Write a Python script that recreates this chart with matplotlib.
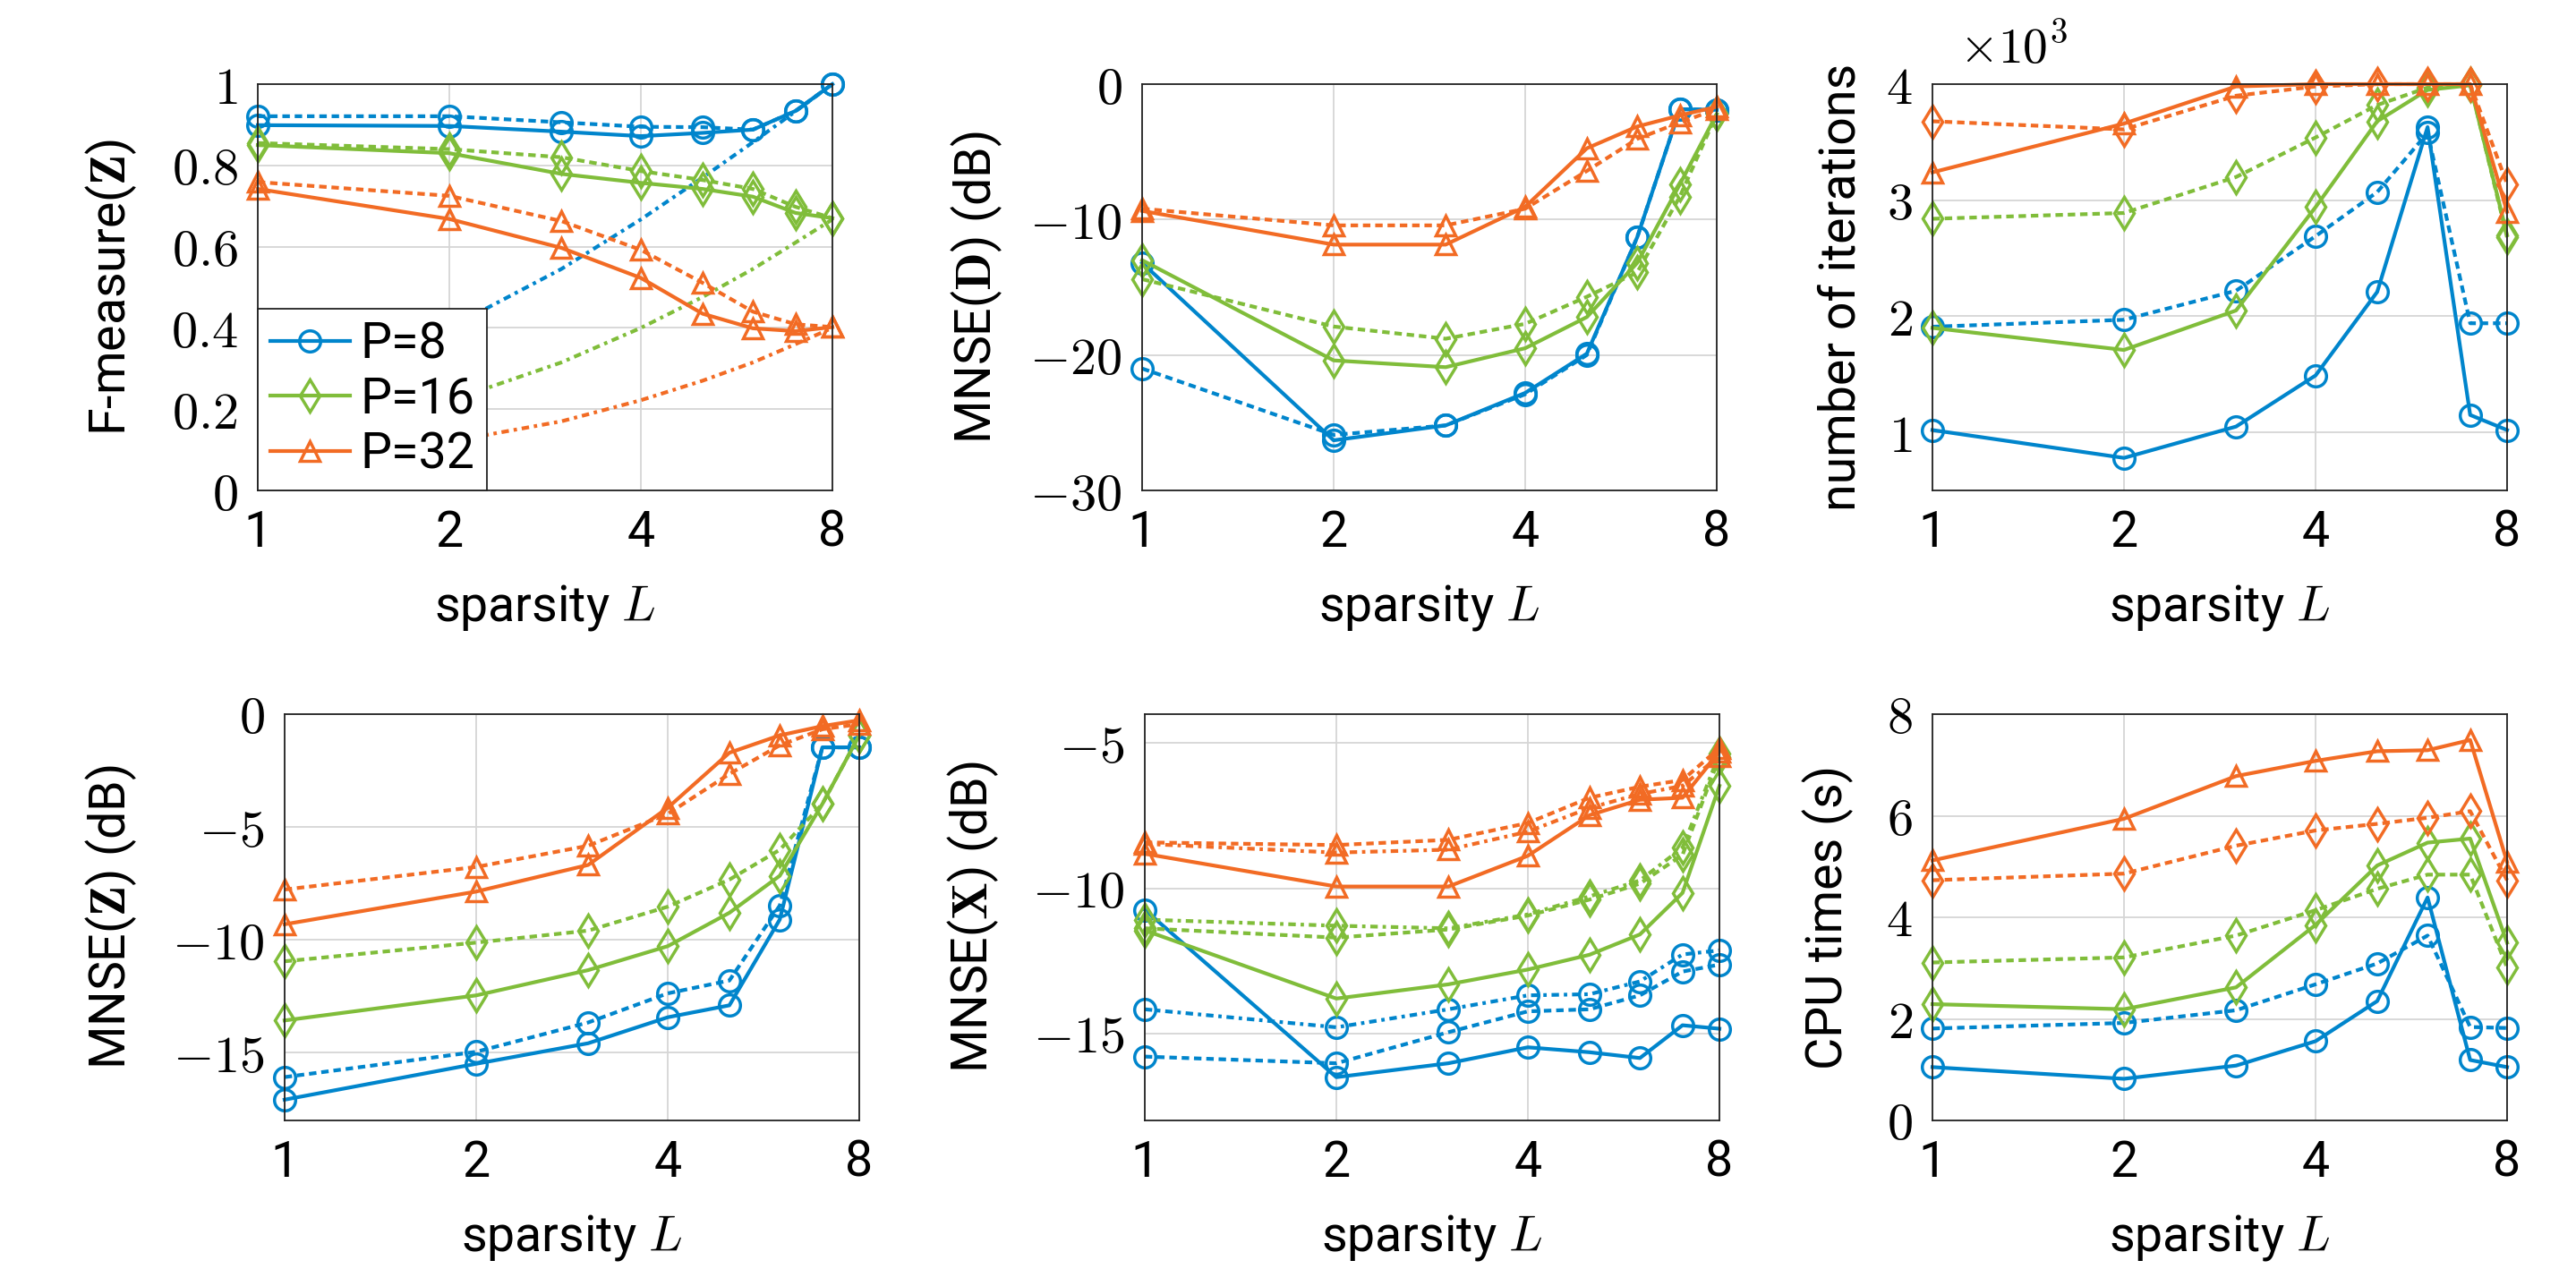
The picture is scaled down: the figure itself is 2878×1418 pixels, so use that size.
import matplotlib
matplotlib.use('Agg')
import matplotlib.pyplot as plt

plt.rcParams['font.family'] = ['Roboto', 'DejaVu Sans']
plt.rcParams['mathtext.fontset'] = 'cm'

# ---------------- data ----------------
L = [1, 2, 3, 4, 5, 6, 7, 8]
x_ticks = [1, 2, 4, 8]
x_ticklabels = ['1', '2', '4', '8']
legend_labels = ['P=8', 'P=16', 'P=32']

# F-measure(Z)
fm_p8_solid = [0.899, 0.897, 0.883, 0.872, 0.880, 0.888, 0.934, 1.0]
fm_p8_dash = [0.921, 0.921, 0.906, 0.895, 0.894, 0.888, 0.934, 1.0]
fm_p8_dot = [0.22, 0.40, 0.545, 0.667, 0.77, 0.857, 0.933, 1.0]
fm_p16_solid = [0.850, 0.830, 0.779, 0.757, 0.742, 0.723, 0.683, 0.670]
fm_p16_dash = [0.855, 0.840, 0.820, 0.786, 0.764, 0.742, 0.698, 0.670]
fm_p16_dot = [0.12, 0.22, 0.315, 0.40, 0.476, 0.545, 0.61, 0.667]
fm_p32_solid = [0.742, 0.668, 0.597, 0.523, 0.435, 0.399, 0.392, 0.402]
fm_p32_dash = [0.759, 0.725, 0.663, 0.592, 0.511, 0.440, 0.409, 0.402]
fm_p32_dot = [0.06, 0.12, 0.17, 0.222, 0.27, 0.315, 0.36, 0.40]

# MNSE(D) (dB)
d_p8_solid = [-13.2, -26.3, -25.2, -22.8, -19.9, -11.3, -1.85, -1.9]
d_p8_dash = [-21.0, -25.9, -25.2, -22.9, -20.0, -11.3, -1.85, -1.9]
d_p16_solid = [-13.0, -20.4, -20.9, -19.5, -17.2, -13.2, -7.4, -2.2]
d_p16_dash = [-14.4, -17.9, -18.8, -17.7, -15.7, -13.9, -8.3, -2.2]
d_p32_solid = [-9.36, -11.85, -11.85, -9.06, -4.74, -3.13, -2.31, -1.67]
d_p32_dash = [-9.2, -10.43, -10.43, -9.2, -6.41, -4.04, -2.83, -1.85]

# number of iterations (x 10^3)
it_p8_solid = [1.02, 0.78, 1.05, 1.49, 2.21, 3.63, 1.15, 1.02]
it_p8_dash = [1.91, 1.97, 2.22, 2.69, 3.07, 3.58, 1.94, 1.94]
it_p16_solid = [1.90, 1.71, 2.05, 2.94, 3.68, 3.95, 3.99, 2.70]
it_p16_dash = [2.84, 2.89, 3.20, 3.54, 3.82, 3.97, 4.00, 2.68]
it_p32_solid = [3.24, 3.66, 3.98, 4.00, 4.00, 4.00, 4.00, 2.90]
it_p32_dash = [3.68, 3.61, 3.90, 3.98, 4.00, 4.00, 4.00, 3.14]

# MNSE(Z) (dB)
z_p8_solid = [-17.08, -15.49, -14.58, -13.43, -12.90, -9.10, -1.47, -1.47]
z_p8_dash = [-16.08, -14.96, -13.66, -12.37, -11.80, -8.48, -1.47, -1.47]
z_p16_solid = [-13.57, -12.46, -11.34, -10.28, -8.80, -7.16, -3.98, -0.94]
z_p16_dash = [-10.95, -10.12, -9.59, -8.53, -7.33, -6.01, -3.98, -0.94]
z_p32_solid = [-9.31, -7.86, -6.68, -4.15, -1.71, -0.94, -0.53, -0.27]
z_p32_dash = [-7.77, -6.77, -5.83, -4.42, -2.65, -1.38, -0.67, -0.44]

# MNSE(X) (dB)
x_p8_solid = [-10.74, -16.51, -16.03, -15.48, -15.65, -15.85, -14.72, -14.84]
x_p8_dash = [-15.80, -16.03, -14.96, -14.24, -14.17, -13.69, -12.87, -12.63]
x_p8_dot = [-14.17, -14.79, -14.17, -13.69, -13.65, -13.21, -12.28, -12.14]
x_p16_solid = [-11.45, -13.80, -13.31, -12.80, -12.29, -11.59, -10.16, -6.47]
x_p16_dash = [-11.38, -11.70, -11.42, -10.94, -10.39, -9.84, -8.85, -5.48]
x_p16_dot = [-11.08, -11.29, -11.38, -10.90, -10.28, -9.73, -8.60, -5.37]
x_p32_solid = [-8.81, -9.94, -9.94, -8.88, -7.48, -6.95, -6.88, -5.30]
x_p32_dash = [-8.42, -8.51, -8.33, -7.75, -6.88, -6.50, -6.27, -5.17]
x_p32_dot = [-8.47, -8.77, -8.67, -8.05, -7.23, -6.75, -6.47, -5.44]

# CPU times (s)
t_p8_solid = [1.05, 0.82, 1.08, 1.56, 2.35, 4.39, 1.19, 1.05]
t_p8_dash = [1.81, 1.92, 2.17, 2.68, 3.09, 3.64, 1.84, 1.82]
t_p16_solid = [2.29, 2.19, 2.62, 3.85, 5.02, 5.47, 5.55, 3.50]
t_p16_dash = [3.11, 3.21, 3.64, 4.14, 4.56, 4.84, 4.84, 3.01]
t_p32_solid = [5.12, 5.94, 6.78, 7.08, 7.27, 7.29, 7.49, 5.09]
t_p32_dash = [4.73, 4.86, 5.41, 5.71, 5.84, 5.96, 6.09, 4.73]

# ---------------- style ----------------
BLUE = '#0085CC'
GREEN = '#80BD3A'
ORANGE = '#F26B24'
LW = 3.0
MEW = 2.5
MS = {'o': 17, 'd': 18, '^': 16}
DASH = (0, (2.0, 1.3))
DASHDOT = (0, (2.0, 1.3, 0.9, 1.3))
FS = 40

fig = plt.figure(figsize=(28.78, 14.18), dpi=100)

W = 642 / 2878
H = 454 / 1418
rects = [
    [288 / 2878, 1 - 548 / 1418, W, H],
    [1276 / 2878, 1 - 548 / 1418, W, H],
    [2159 / 2878, 1 - 548 / 1418, W, H],
    [318 / 2878, 1 - 1252 / 1418, W, H],
    [1279 / 2878, 1 - 1252 / 1418, W, H],
    [2159 / 2878, 1 - 1252 / 1418, W, H],
]


def fmt_num(v):
    return '$' + ('%g' % v) + '$'


def setup(ax, yticks, ylim, ylabel, ylab_dx):
    ax.set_xscale('log', base=2)
    ax.set_xlim(1, 8)
    ax.set_xticks(x_ticks)
    ax.set_xticklabels(x_ticklabels)
    ax.minorticks_off()
    ax.set_ylim(*ylim)
    ax.set_yticks(yticks)
    ax.set_yticklabels([fmt_num(v) for v in yticks])
    ax.tick_params(axis='x', length=0, pad=15, labelsize=FS)
    ax.tick_params(axis='y', length=0, pad=16, labelsize=FS + 2)
    ax.grid(True, color='#d6d6d6', lw=1.3)
    ax.set_axisbelow(True)
    for sp in ax.spines.values():
        sp.set_linewidth(1.3)
        sp.set_color('#222222')
    ax.set_xlabel('sparsity $L$', fontsize=FS, va='center')
    ax.xaxis.set_label_coords(0.5, -131 / 454)
    ax.set_ylabel(ylabel, fontsize=FS, va='center')
    ax.yaxis.set_label_coords(-ylab_dx / 642, 0.5)


def draw(ax, y, color, marker, ls):
    return ax.plot(L, y, color=color, ls=ls, lw=LW, marker=marker,
                   ms=MS[marker], mew=MEW, mfc='none', mec=color)[0]


def draw_plain(ax, y, color, ls):
    return ax.plot(L, y, color=color, ls=ls, lw=LW)[0]


axs = [fig.add_axes(r) for r in rects]

# Panel 1: F-measure
ax = axs[0]
draw_plain(ax, fm_p8_dot, BLUE, DASHDOT)
draw_plain(ax, fm_p16_dot, GREEN, DASHDOT)
draw_plain(ax, fm_p32_dot, ORANGE, DASHDOT)
h1 = draw(ax, fm_p8_solid, BLUE, 'o', '-')
draw(ax, fm_p8_dash, BLUE, 'o', DASH)
h2 = draw(ax, fm_p16_solid, GREEN, 'd', '-')
draw(ax, fm_p16_dash, GREEN, 'd', DASH)
h3 = draw(ax, fm_p32_solid, ORANGE, '^', '-')
draw(ax, fm_p32_dash, ORANGE, '^', DASH)
setup(ax, [0, 0.2, 0.4, 0.6, 0.8, 1], (0, 1), r'F-measure($\mathbf{Z}$)', 164)
leg = ax.legend([h1, h2, h3], legend_labels, loc='lower left', fontsize=FS,
                frameon=True, fancybox=False, framealpha=1, edgecolor='#222222',
                borderaxespad=0, handlelength=1.6, handletextpad=0.2,
                labelspacing=0.15, borderpad=0.25)
leg.get_frame().set_linewidth(1.3)
leg.set_zorder(10)

# Panel 2: MNSE(D)
ax = axs[1]
draw(ax, d_p8_solid, BLUE, 'o', '-')
draw(ax, d_p8_dash, BLUE, 'o', DASH)
draw(ax, d_p16_solid, GREEN, 'd', '-')
draw(ax, d_p16_dash, GREEN, 'd', DASH)
draw(ax, d_p32_solid, ORANGE, '^', '-')
draw(ax, d_p32_dash, ORANGE, '^', DASH)
setup(ax, [-30, -20, -10, 0], (-30, 0), r'MNSE($\mathbf{D}$) (dB)', 185)

# Panel 3: iterations
ax = axs[2]
draw(ax, it_p8_solid, BLUE, 'o', '-')
draw(ax, it_p8_dash, BLUE, 'o', DASH)
draw(ax, it_p16_solid, GREEN, 'd', '-')
draw(ax, it_p16_dash, GREEN, 'd', DASH)
draw(ax, it_p32_solid, ORANGE, '^', '-')
draw(ax, it_p32_dash, ORANGE, 'd', DASH)
setup(ax, [1, 2, 3, 4], (0.5, 4), 'number of iterations', 102)
ax.text(30 / 642, 1.0 + 12 / 454, r'$\times10^3$', transform=ax.transAxes,
        fontsize=FS, ha='left', va='bottom')

# Panel 4: MNSE(Z)
ax = axs[3]
draw(ax, z_p8_solid, BLUE, 'o', '-')
draw(ax, z_p8_dash, BLUE, 'o', DASH)
draw(ax, z_p16_solid, GREEN, 'd', '-')
draw(ax, z_p16_dash, GREEN, 'd', DASH)
draw(ax, z_p32_solid, ORANGE, '^', '-')
draw(ax, z_p32_dash, ORANGE, '^', DASH)
setup(ax, [-15, -10, -5, 0], (-18, 0), r'MNSE($\mathbf{Z}$) (dB)', 194)

# Panel 5: MNSE(X)
ax = axs[4]
draw(ax, x_p8_solid, BLUE, 'o', '-')
draw(ax, x_p8_dash, BLUE, 'o', DASH)
draw(ax, x_p8_dot, BLUE, 'o', DASHDOT)
draw(ax, x_p16_solid, GREEN, 'd', '-')
draw(ax, x_p16_dash, GREEN, 'd', DASH)
draw(ax, x_p16_dot, GREEN, 'd', DASHDOT)
draw(ax, x_p32_solid, ORANGE, '^', '-')
draw(ax, x_p32_dash, ORANGE, '^', DASH)
draw(ax, x_p32_dot, ORANGE, '^', DASHDOT)
setup(ax, [-15, -10, -5], (-18, -4), r'MNSE($\mathbf{X}$) (dB)', 192)

# Panel 6: CPU times
ax = axs[5]
draw(ax, t_p8_solid, BLUE, 'o', '-')
draw(ax, t_p8_dash, BLUE, 'o', DASH)
draw(ax, t_p16_solid, GREEN, 'd', '-')
draw(ax, t_p16_dash, GREEN, 'd', DASH)
draw(ax, t_p32_solid, ORANGE, '^', '-')
draw(ax, t_p32_dash, ORANGE, 'd', DASH)
setup(ax, [0, 2, 4, 6, 8], (0, 8), 'CPU times (s)', 117)

for ax in axs:
    for ln in ax.lines:
        ln.set_clip_on(False)

fig.savefig('out.png', dpi=100)
